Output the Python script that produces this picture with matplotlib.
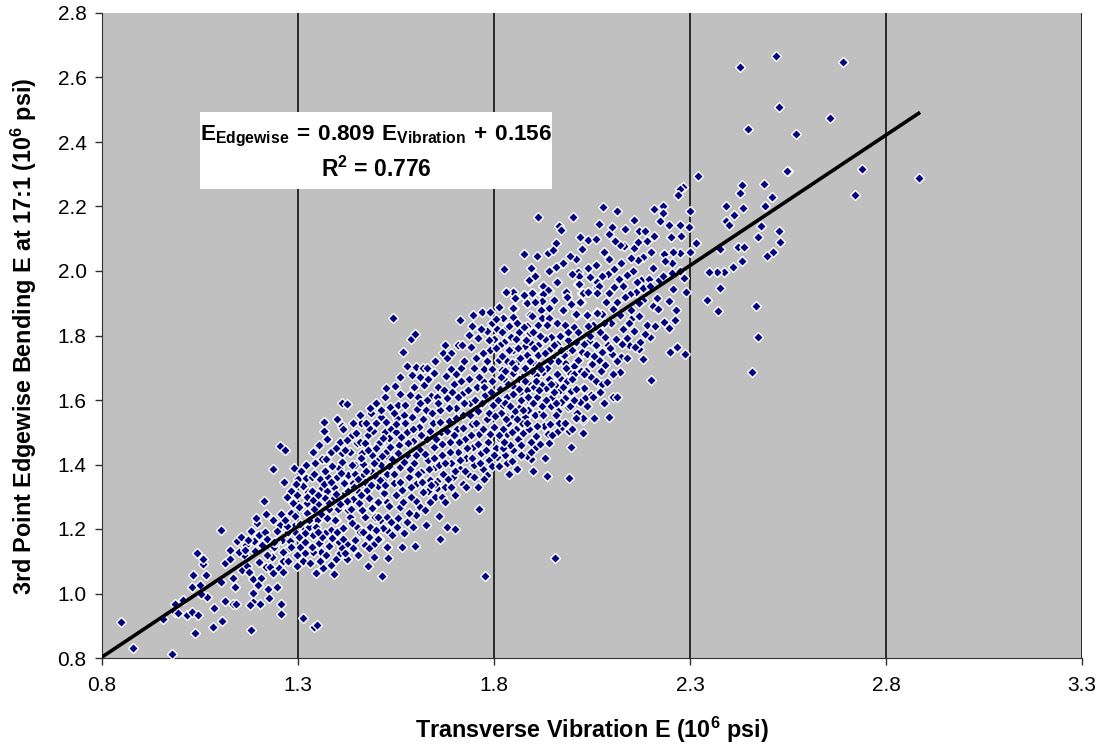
import matplotlib
matplotlib.use("Agg")
import matplotlib.pyplot as plt
from matplotlib.patches import Rectangle

plt.rcParams['font.family'] = ['Liberation Sans', 'DejaVu Sans']
plt.rcParams['mathtext.fontset'] = 'custom'
plt.rcParams['mathtext.rm'] = 'Liberation Sans'
plt.rcParams['mathtext.bf'] = 'Liberation Sans:bold'

x_ticks = [0.8, 1.3, 1.8, 2.3, 2.8, 3.3]
y_ticks = [0.8, 1.0, 1.2, 1.4, 1.6, 1.8, 2.0, 2.2, 2.4, 2.6, 2.8]
fit_x = [0.8, 2.887]
fit_y = [0.803, 2.492]

low_end = [
    (0.848,0.911),(0.880,0.832),(0.979,0.811),(0.955,0.921),(0.985,0.966),(1.007,0.981),(0.986,0.942),
    (0.995,0.938),(1.016,0.933),(1.030,0.942),(1.046,0.932),(1.036,0.879),(1.084,0.897),(1.107,0.914),
    (1.086,0.954),(1.114,0.978),(1.133,0.966),(1.142,0.968),(1.179,0.888),(1.184,0.975),(1.177,0.964),
    (1.202,0.966),(1.227,0.987),(1.257,0.967),(1.256,0.937),(1.312,0.924),(1.341,0.897),(1.349,0.902),
    (1.069,0.990),(1.052,1.000),(1.029,1.020),(1.051,1.026),(1.033,1.056),(1.065,1.056),(1.058,1.090),
    (1.057,1.108),(1.043,1.127),(1.103,1.037),(1.133,1.049),(1.139,1.020),(1.114,1.094),(1.127,1.106),
    (1.127,1.135),(1.162,1.118),(1.156,1.072),(1.171,1.086),(1.176,1.066),(1.186,1.045),(1.206,1.047),
    (1.197,1.025),(1.184,1.003),(1.223,1.013),(1.246,1.019),(1.201,1.097),(1.218,1.083),(1.229,1.083),
    (1.237,1.065),(1.251,1.080),(1.263,1.067),(1.263,1.102),(1.234,1.114),(1.298,1.085),(1.104,1.196),
    (1.145,1.163),(1.155,1.175),(1.168,1.151),(1.181,1.193),(1.188,1.163),(1.201,1.182),(1.190,1.131),
    (1.195,1.220),(1.192,1.233),(1.218,1.245),(1.213,1.288),(1.235,1.227),(1.256,1.248),(1.254,1.211),
    (1.246,1.195),(1.260,1.166),(1.276,1.142),(1.280,1.163),(1.275,1.191),(1.289,1.209),(1.282,1.251),
    (1.286,1.281),(1.282,1.318),(1.264,1.345),(1.297,1.305),(1.303,1.269),(1.299,1.355),(1.290,1.390),
    (1.235,1.387),(1.254,1.458),(1.267,1.444),(1.320,1.399),(1.320,1.357),(1.326,1.315),(1.324,1.282),
    (1.324,1.251),(1.350,1.276),(1.360,1.327),(1.356,1.355),(1.360,1.416),(1.344,1.406),(1.366,1.505),
    (1.367,1.533),(1.375,1.478),(1.399,1.541),(1.411,1.519),(1.411,1.592),(1.426,1.589),(1.461,1.528),
    (1.486,1.559),(1.484,1.574),(1.512,1.548),(1.524,1.531),(1.365,1.080),(1.393,1.062),(1.398,1.106),
    (1.406,1.126),(1.426,1.108),(1.426,1.155),(1.405,1.159),(1.358,1.130),(1.338,1.129),(1.317,1.127),
    (1.298,1.119),(1.305,1.145),(1.318,1.160),(1.335,1.145),(1.353,1.156),(1.360,1.174),(1.338,1.181),
    (1.318,1.187),(1.295,1.187),(1.314,1.205),(1.329,1.205),(1.353,1.230),(1.373,1.238),(1.397,1.228),
    (1.383,1.197),(1.416,1.204),(1.399,1.192),(1.445,1.166),(1.450,1.207),(1.471,1.236),(1.462,1.259),
    (1.428,1.261),(1.441,1.293),(1.393,1.297),(1.375,1.318),(1.420,1.313),(1.441,1.342),(1.428,1.367),
    (1.399,1.360),(1.376,1.360),(1.405,1.390),(1.369,1.381),(1.413,1.435),(1.383,1.440),(1.407,1.471),
    (1.437,1.491),(1.424,1.476),(1.450,1.468),(1.479,1.491),(1.492,1.505),(1.522,1.500),(1.509,1.464),
    (1.484,1.445),(1.462,1.435),(1.445,1.398),(1.505,1.414),(1.490,1.378),(1.467,1.367),(1.517,1.352),
    (1.530,1.424),(1.475,1.321),(1.505,1.285),(1.488,1.266),(1.526,1.280),(1.475,1.174),(1.507,1.169),
    (1.494,1.152),(1.526,1.145),(1.495,1.114),(1.530,1.109),(1.478,1.085),(1.514,1.053),(1.488,1.204),
    (1.509,1.228),(1.526,1.197),(1.497,1.238),(1.526,1.238),
]

mid_edges = [
    (1.543,1.853),(1.535,1.579),(1.555,1.584),(1.521,1.608),(1.525,1.637),(1.548,1.643),(1.560,1.619),
    (1.579,1.705),(1.600,1.701),(1.590,1.678),(1.618,1.699),(1.648,1.683),(1.567,1.748),(1.587,1.788),
    (1.599,1.804),(1.675,1.772),(1.671,1.745),(1.713,1.847),(1.746,1.863),(1.770,1.874),(1.790,1.873),
    (1.813,1.889),(1.824,1.853),(1.850,1.885),(1.830,1.936),(1.854,1.915),(1.877,1.926),(1.897,1.933),
    (1.885,1.902),(1.926,1.954),(1.923,1.929),(1.941,1.939),(1.889,1.969),(1.986,1.923),(2.015,1.960),
    (2.024,1.931),(2.021,1.905),(1.998,1.895),(1.975,1.879),(1.922,1.879),(1.892,1.864),(2.009,1.865),
    (2.036,1.864),(2.062,1.951),(2.041,1.936),(2.062,1.874),(1.848,1.856),(1.992,1.357),(1.935,1.364),
    (1.900,1.381),(1.858,1.387),(1.838,1.372),(1.832,1.406),(1.894,1.416),(1.883,1.426),(1.941,1.468),
    (1.996,1.455),(2.028,1.499),(2.026,1.538),(1.992,1.505),(1.970,1.512),(1.960,1.500),(1.907,1.489),
    (1.875,1.497),(1.860,1.478),(1.834,1.495),(1.815,1.478),(1.849,1.445),(1.827,1.429),(1.807,1.424),
    (1.762,1.263),(1.679,1.205),(1.701,1.200),(1.661,1.170),(1.601,1.288),(1.650,1.298),(1.654,1.326),
    (1.631,1.319),(1.601,1.243),(1.627,1.212),(1.598,1.148),(1.565,1.145),(1.593,1.205),(1.560,1.269),
    (1.577,1.223),(1.556,1.233),(1.526,1.283),(1.505,1.285),(1.488,1.266),(1.462,1.259),(1.505,1.238),
    (1.484,1.207),(1.518,1.202),(1.539,1.181),(1.505,1.168),(1.480,1.174),(1.450,1.207),(1.416,1.202),
    (1.395,1.228),(1.428,1.259),(1.369,1.187),(1.339,1.181),(1.360,1.174),(1.318,1.187),(1.348,1.228),
    (1.322,1.249),(1.373,1.233),(1.526,1.145),(2.049,1.714),(2.002,1.705),(1.985,1.750),(2.024,1.750),
    (2.058,1.771),(1.771,1.660),(1.849,1.688),(1.871,1.672),(1.892,1.657),(1.913,1.683),(1.934,1.636),
    (1.968,1.667),(1.977,1.631),(1.994,1.626),(2.028,1.636),(2.049,1.672),(2.062,1.657),
]

upper = [
    (2.321,2.296),(2.283,2.259),(2.275,2.253),(2.270,2.235),(2.549,2.311),(2.433,2.268),(2.490,2.270),
    (2.428,2.243),(2.510,2.228),(2.491,2.203),(2.434,2.194),(2.392,2.200),(2.413,2.174),(2.393,2.155),
    (2.400,2.144),(2.480,2.141),(2.527,2.124),(2.473,2.104),(2.530,2.090),(2.300,2.186),(2.297,2.135),
    (2.232,2.202),(2.208,2.193),(2.232,2.181),(2.223,2.154),(2.246,2.142),(2.275,2.142),(2.278,2.109),
    (2.252,2.104),(2.315,2.086),(2.300,2.058),(2.275,2.055),(2.256,2.058),(2.233,2.052),(2.377,2.067),
    (2.423,2.073),(2.438,2.073),(2.433,2.032),(2.409,2.012),(2.387,1.996),(2.368,1.996),(2.348,1.996),
    (2.376,1.947),(2.344,1.910),(2.372,1.875),(2.469,1.890),(2.474,1.796),(2.457,1.688),(2.513,2.058),
    (2.496,2.045),(2.284,1.977),(2.289,1.936),(2.257,1.944),(2.246,1.907),(2.265,1.880),(2.263,1.848),
    (2.233,1.841),(2.247,1.823),(2.268,1.765),(2.249,1.749),(2.288,1.742),(2.181,1.726),(2.200,1.661),
    (2.122,1.688),(2.104,1.681),(2.171,1.758),(2.125,1.732),(2.145,1.769),(2.127,1.773),(2.172,1.781),
    (2.198,1.794),(2.185,1.804),(2.158,1.814),(2.139,1.791),(2.128,1.821),(2.190,1.833),(2.206,1.892),
    (2.219,1.881),(2.181,1.910),(2.155,2.000),(2.140,1.987),(2.118,1.975),(2.128,1.955),(2.176,1.973),
    (2.196,1.975),(2.220,1.972),(2.232,1.985),(2.254,2.024),(2.253,1.995),(2.275,2.001),(2.181,1.946),
    (2.198,1.952),(2.162,1.936),(2.147,1.929),(2.134,1.918),(2.113,1.903),(2.094,1.931),(2.086,1.905),
    (2.104,1.881),(2.121,1.864),(2.075,1.866),(2.053,1.833),(2.098,1.838),(2.200,2.060),(2.158,2.071),
    (2.181,2.042),(2.168,2.034),(2.131,2.079),(2.121,2.081),(2.108,2.092),(2.094,2.114),(2.167,2.091),
    (2.190,2.092),(2.208,2.109),(2.171,2.125),(2.186,2.125),(2.157,2.157),(2.115,2.185),(2.077,2.197),
    (2.069,2.147),(2.001,2.167),(1.913,2.167),(1.967,2.141),(1.970,2.127),(1.958,2.086),(2.041,2.096),
    (2.025,2.067),(2.080,2.059),(2.094,2.036),(2.125,2.026),(2.010,2.036),(1.994,2.048),(1.977,2.024),
    (1.958,2.011),(1.939,2.056),(1.909,2.048),(1.877,2.052),(1.825,2.006),(1.889,1.972),(2.015,1.996),
    (2.018,1.983),(2.016,1.960),(1.926,1.954),(1.939,1.941),(1.926,1.929),(1.896,1.931),(1.877,1.926),
    (1.849,1.936),(1.831,1.936),(1.854,1.915),(1.885,1.902),(1.848,1.884),(1.984,1.936),(1.985,1.920),
    (2.026,1.931),(2.041,1.936),(2.019,1.905),(1.997,1.897),(1.975,1.879),(2.064,1.965),(2.067,1.952),
    (2.062,1.933),(2.009,1.866),(2.036,1.864),(2.062,1.869),(1.922,1.908),(1.941,1.884),(1.919,1.879),
    (1.898,1.862),(1.922,1.853),(1.941,1.853),(1.824,1.853),(1.834,1.827),(1.858,1.796),(1.883,1.830),
    (1.911,1.833),(1.934,1.833),(1.960,1.838),(1.981,1.833),(2.004,1.825),(2.015,1.810),(2.041,1.831),
    (1.865,1.812),(1.892,1.807),(1.919,1.796),(1.945,1.794),(1.968,1.800),(1.990,1.786),(1.879,1.768),
    (1.849,1.755),(1.940,1.755),(1.913,1.740),(1.960,1.774),(1.981,1.755),(1.998,1.755),(2.024,1.750),
    (2.042,1.784),(2.059,1.770),(2.083,1.794),(2.075,1.750),(2.100,1.743),(2.049,1.712),(2.083,1.709),
    (2.004,1.706),(1.990,1.691),(1.968,1.667),(2.047,1.672),(2.059,1.660),(2.075,1.649),(2.030,1.637),
    (1.996,1.629),(1.968,1.631),(2.009,1.634),(2.047,1.616),(2.032,1.605),(2.104,1.609),(2.115,1.609),
    (2.081,1.592),(2.036,1.581),(1.990,1.579),(1.945,1.582),(1.964,1.567),(1.915,1.557),(1.866,1.577),
    (1.849,1.548),(2.026,1.543),(2.094,1.548),(1.926,1.688),(1.956,1.647),(1.932,1.638),(1.907,1.677),
    (1.888,1.655),(1.866,1.626),(1.909,1.610),(1.849,1.685),(1.825,1.664),(1.832,1.722),(1.862,1.722),
    (1.885,1.738),(1.820,1.693),(1.824,1.585),(1.981,1.605),(1.947,1.610),(1.892,1.595),(1.828,1.553),
    (1.879,1.548),(1.981,1.714),(1.900,1.719),
]

top_strays = [
    (2.519,2.667),(2.428,2.632),(2.690,2.647),(2.527,2.510),(2.656,2.475),(2.448,2.439),(2.570,2.425),
    (2.548,2.311),(2.738,2.316),(2.720,2.236),(2.883,2.287),(1.955,1.110),(1.778,1.055),
]

dense_core = [
    (1.312,1.334),(1.335,1.318),(1.342,1.262),(1.347,1.205),(1.368,1.295),(1.378,1.262),(1.366,1.341),
    (1.388,1.395),(1.392,1.330),(1.402,1.263),(1.412,1.408),(1.418,1.342),(1.424,1.288),(1.433,1.236),
    (1.432,1.438),(1.445,1.372),(1.452,1.318),(1.456,1.280),(1.458,1.470),(1.466,1.402),(1.472,1.345),
    (1.480,1.297),(1.482,1.512),(1.489,1.430),(1.497,1.365),(1.503,1.332),(1.507,1.468),(1.512,1.398),
    (1.519,1.312),(1.524,1.440),(1.528,1.372),(1.533,1.270),(1.537,1.510),(1.541,1.418),(1.546,1.342),
    (1.549,1.305),(1.552,1.545),(1.558,1.462),(1.561,1.392),(1.565,1.322),(1.568,1.285),(1.573,1.585),
    (1.577,1.500),(1.579,1.430),(1.583,1.362),(1.587,1.300),(1.590,1.548),(1.594,1.472),(1.597,1.405),
    (1.602,1.340),(1.605,1.610),(1.608,1.515),(1.612,1.445),(1.615,1.378),(1.619,1.315),(1.622,1.645),
    (1.626,1.570),(1.629,1.480),(1.632,1.415),(1.636,1.352),(1.640,1.612),(1.644,1.530),(1.647,1.455),
    (1.650,1.392),(1.655,1.350),(1.658,1.640),(1.661,1.570),(1.664,1.500),(1.667,1.430),(1.671,1.372),
    (1.675,1.330),(1.678,1.675),(1.681,1.605),(1.684,1.535),(1.688,1.470),(1.691,1.405),(1.695,1.360),
    (1.698,1.650),(1.702,1.575),(1.705,1.510),(1.708,1.440),(1.712,1.385),(1.716,1.700),(1.719,1.620),
    (1.722,1.555),(1.725,1.480),(1.729,1.420),(1.733,1.370),(1.736,1.665),(1.739,1.590),(1.743,1.525),
    (1.746,1.455),(1.750,1.400),(1.754,1.730),(1.757,1.640),(1.760,1.565),(1.763,1.495),(1.767,1.435),
    (1.771,1.385),(1.774,1.695),(1.777,1.615),(1.781,1.540),(1.784,1.470),(1.788,1.415),(1.791,1.755),
    (1.795,1.660),(1.798,1.585),(1.801,1.515),(1.805,1.450),(1.808,1.820),(1.812,1.725),(1.815,1.635),
    (1.819,1.560),(1.822,1.510),(1.826,1.780),(1.829,1.690),(1.833,1.610),(1.836,1.530),(1.840,1.460),
    (1.844,1.795),(1.847,1.715),(1.851,1.640),(1.854,1.565),(1.857,1.510),(1.861,1.760),(1.865,1.665),
    (1.868,1.600),(1.872,1.530),(1.876,1.825),(1.879,1.700),(1.883,1.630),(1.886,1.570),(1.890,1.510),
    (1.893,1.780),(1.897,1.690),(1.901,1.640),(1.904,1.555),(1.908,1.455),(1.912,1.770),(1.916,1.710),
    (1.920,1.650),(1.923,1.580),(1.927,1.520),(1.931,1.790),(1.936,1.700),(1.940,1.665),(1.944,1.525),
    (1.950,1.730),(1.954,1.625),(1.958,1.555),(1.963,1.720),(1.972,1.595),(1.978,1.740),(1.986,1.660),
    (2.005,1.680),(2.014,1.725),(2.020,1.595),(2.038,1.742),(2.052,1.610),(2.068,1.725),(2.088,1.655),
    (1.303,1.175),(1.327,1.228),(1.352,1.192),(1.378,1.148),(1.388,1.172),(1.414,1.170),(1.437,1.218),
    (1.457,1.190),(1.470,1.150),(1.500,1.196),(1.538,1.222),(1.552,1.205),(1.570,1.188),(1.584,1.250),
    (1.612,1.268),(1.638,1.285),(1.668,1.300),(1.690,1.330),(1.720,1.340),(1.748,1.362),(1.782,1.368),
    (1.335,1.362),(1.372,1.418),(1.396,1.452),(1.420,1.445),(1.447,1.498),(1.470,1.468),(1.500,1.530),
    (1.533,1.482),(1.550,1.500),(1.570,1.555),(1.585,1.615),(1.610,1.670),(1.632,1.665),(1.654,1.610),
    (1.690,1.695),(1.724,1.720),(1.742,1.765),(1.760,1.792),(1.782,1.815),(1.800,1.790),(1.772,1.745),
    (1.795,1.838),(1.815,1.770),(1.858,1.840),(1.900,1.810),(1.735,1.802),(1.707,1.770),(1.690,1.745),
]

dense_fill = [
    (1.322,1.300),(1.339,1.290),(1.352,1.305),(1.358,1.248),(1.380,1.282),(1.384,1.345),(1.398,1.310),
    (1.406,1.278),(1.410,1.375),(1.427,1.318),(1.436,1.262),(1.438,1.400),(1.443,1.330),(1.452,1.355),
    (1.460,1.305),(1.461,1.420),(1.474,1.380),(1.478,1.445),(1.486,1.335),(1.493,1.405),(1.500,1.452),
    (1.508,1.352),(1.515,1.425),(1.516,1.482),(1.522,1.335),(1.531,1.395),(1.535,1.455),(1.544,1.372),
    (1.549,1.525),(1.555,1.435),(1.559,1.345),(1.563,1.485),(1.571,1.408),(1.574,1.530),(1.581,1.468),
    (1.586,1.385),(1.589,1.330),(1.593,1.510),(1.600,1.430),(1.603,1.572),(1.606,1.372),(1.613,1.490),
    (1.617,1.345),(1.620,1.540),(1.624,1.432),(1.628,1.600),(1.634,1.385),(1.638,1.505),(1.642,1.560),
    (1.646,1.420),(1.649,1.340),(1.653,1.480),(1.657,1.590),(1.660,1.400),(1.663,1.532),(1.668,1.465),
    (1.672,1.630),(1.674,1.405),(1.679,1.505),(1.683,1.355),(1.686,1.575),(1.689,1.438),(1.693,1.625),
    (1.697,1.490),(1.700,1.380),(1.704,1.545),(1.707,1.610),(1.710,1.470),(1.714,1.415),(1.717,1.660),
    (1.721,1.512),(1.724,1.590),(1.727,1.380),(1.731,1.450),(1.734,1.630),(1.738,1.555),(1.741,1.490),
    (1.744,1.420),(1.748,1.700),(1.752,1.600),(1.755,1.530),(1.758,1.465),(1.762,1.670),(1.765,1.405),
    (1.769,1.590),(1.772,1.510),(1.775,1.640),(1.779,1.445),(1.783,1.720),(1.786,1.560),(1.790,1.495),
    (1.793,1.625),(1.796,1.695),(1.799,1.430),(1.803,1.550),(1.806,1.760),(1.810,1.600),(1.813,1.490),
    (1.817,1.670),(1.820,1.735),(1.823,1.450),(1.827,1.590),(1.830,1.540),(1.835,1.650),(1.838,1.755),
    (1.842,1.580),(1.845,1.500),(1.849,1.620),(1.853,1.700),(1.856,1.790),(1.859,1.540),(1.863,1.635),
    (1.867,1.730),(1.870,1.460),(1.874,1.570),(1.878,1.660),(1.881,1.785),(1.885,1.530),(1.888,1.610),
    (1.892,1.720),(1.895,1.470),(1.899,1.590),(1.903,1.760),(1.906,1.660),(1.910,1.520),(1.914,1.630),
    (1.917,1.800),(1.921,1.695),(1.925,1.555),(1.929,1.745),(1.933,1.600),(1.938,1.495),(1.942,1.720),
    (1.946,1.650),(1.952,1.770),(1.957,1.590),(1.961,1.680),(1.966,1.530),(1.971,1.755),(1.975,1.640),
    (1.983,1.700),(1.988,1.810),(1.993,1.580),(1.999,1.665),(2.008,1.780),(2.012,1.560),(2.022,1.690),
    (2.035,1.690),(2.045,1.800),(2.056,1.735),(2.065,1.820),(2.072,1.690),(2.080,1.840),(2.090,1.770),
    (1.220,1.120),(1.240,1.145),(1.245,1.160),(1.262,1.130),(1.272,1.210),(1.275,1.100),(1.283,1.145),
    (1.292,1.240),(1.305,1.215),(1.312,1.100),(1.331,1.095),(1.345,1.065),(1.355,1.100),(1.372,1.120),
    (1.385,1.088),(1.412,1.140),(1.420,1.125),(1.440,1.140),(1.452,1.118),(1.465,1.190),(1.480,1.140),
    (1.150,1.130),(1.165,1.135),(1.172,1.165),(1.208,1.150),(1.215,1.192),(1.222,1.170),(1.238,1.160),
    (1.268,1.228),(1.272,1.300),(1.296,1.340),(1.308,1.380),(1.338,1.440),(1.354,1.462),(1.342,1.372),
    (1.415,1.510),(1.440,1.530),(1.458,1.552),(1.474,1.530),(1.498,1.590),(1.512,1.570),(1.546,1.560),
    (1.560,1.670),(1.596,1.640),(1.612,1.590),(1.630,1.700),(1.650,1.720),(1.680,1.730),(1.702,1.680),
    (1.718,1.770),(1.745,1.830),(1.768,1.820),(1.788,1.785),(1.805,1.850),(1.820,1.810),(1.838,1.830),
    (1.660,1.240),(1.625,1.258),(1.640,1.335),(1.675,1.285),(1.700,1.305),(1.728,1.330),(1.760,1.330),
    (1.775,1.355),(1.795,1.395),(1.812,1.395),(1.825,1.470),(1.845,1.410),(1.870,1.430),(1.895,1.440),
    (1.918,1.465),(1.930,1.420),(1.948,1.490),(1.980,1.530),(2.000,1.510),(2.010,1.545),(2.055,1.545),
]

right_fill = [
    (1.905,1.905),(1.952,1.910),(1.960,1.965),(1.905,1.985),(1.940,2.000),(1.998,1.990),(2.040,2.010),
    (2.060,2.020),(2.090,1.990),(2.105,2.005),(2.075,1.985),(2.045,1.980),(2.105,1.950),(2.150,1.880),
    (2.170,1.860),(2.150,1.850),(2.110,1.790),(2.095,1.760),(2.070,1.810),(2.030,1.775),(2.115,1.720),
    (2.140,1.730),(2.160,1.765),(2.210,1.830),(2.215,1.915),(2.165,1.965),(2.205,2.010),(2.235,2.030),
    (2.150,2.040),(2.100,2.135),(2.135,2.130),(2.060,2.100),(2.020,2.105),(1.950,2.065),(1.895,2.010),
    (2.170,1.900),(2.145,1.840),(2.030,1.680),(2.005,1.600),(2.070,1.625),
]

groups = [low_end, mid_edges, upper, top_strays, dense_core, dense_fill, right_fill]
xs = [p[0] for g in groups for p in g]
ys = [p[1] for g in groups for p in g]

fig = plt.figure(figsize=(10.99, 7.44), dpi=100)
ax = fig.add_axes([102 / 1099, 86 / 744, 980 / 1099, 645 / 744])
ax.set_facecolor('#C0C0C0')

ax.plot(xs, ys, ls='none', marker='D', ms=5.2, mfc='#000080', mec='white', mew=1.0, zorder=3)
ax.plot(fit_x, fit_y, color='black', lw=2.6, zorder=4, solid_capstyle='butt')

ax.set_xlim(0.8, 3.3)
ax.set_ylim(0.8, 2.8)
ax.set_xticks(x_ticks)
ax.set_yticks(y_ticks)
ax.set_xticklabels([f'{t:.1f}' for t in x_ticks])
ax.set_yticklabels([f'{t:.1f}' for t in y_ticks])
ax.xaxis.grid(True, color='black', lw=1.1, zorder=1)
ax.set_axisbelow(True)
ax.tick_params(length=5, width=1, color='#303030', labelsize=15, pad=8)
ax.tick_params(axis='y', pad=6)
ax.spines['top'].set_visible(False)
ax.spines['right'].set_visible(False)
ax.spines['left'].set_color('#303030')
ax.spines['bottom'].set_color('#303030')

fig.text(591.5 / 1099, 1 - 730 / 744, r'Transverse Vibration E (10$^{\mathbf{6}}$ psi)',
         ha='center', va='center', fontsize=16.8, fontweight='bold')
fig.text(24 / 1099, 1 - 336 / 744, r'3rd Point Edgewise Bending E at 17:1 (10$^{\mathbf{6}}$ psi)',
         ha='center', va='center', rotation=90, fontsize=16.8, fontweight='bold')

box = Rectangle((200 / 1099, 1 - 189 / 744), 352 / 1099, 77 / 744, transform=fig.transFigure,
                facecolor='white', edgecolor='none', zorder=5)
ax.add_patch(box)
ax.text(376 / 1099, 1 - 136 / 744, r'$\mathbf{E_{Edgewise}\,=\,0.809\ E_{Vibration}\,+\,0.156}$',
        transform=fig.transFigure, ha='center', va='center', fontsize=16.2, zorder=6)
ax.text(376 / 1099, 1 - 169 / 744, r'R$^{\mathbf{2}}$ = 0.776', fontweight='bold',
        transform=fig.transFigure, ha='center', va='center', fontsize=16.5, zorder=6)

fig.savefig('out.png', dpi=100)
